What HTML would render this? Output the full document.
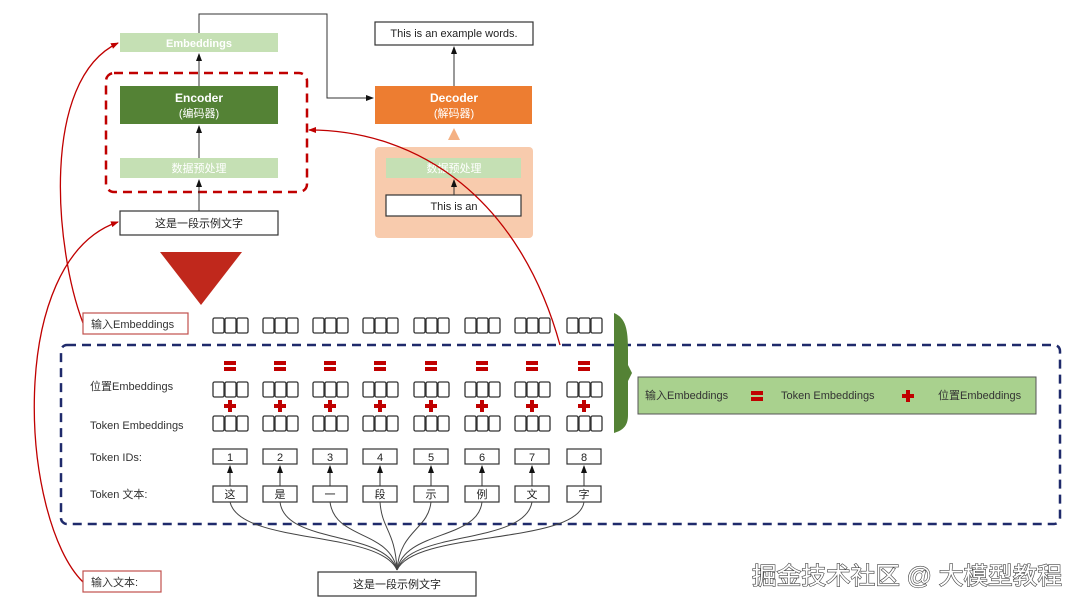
<!DOCTYPE html>
<html><head><meta charset="utf-8"><style>
body{margin:0;background:#fff;}
svg{display:block;font-family:"Liberation Sans","Noto Sans CJK SC",sans-serif;}
</style></head><body>
<svg width="1080" height="608" viewBox="0 0 1080 608" xmlns="http://www.w3.org/2000/svg">
<defs>
<marker id="ab" markerWidth="8" markerHeight="8" refX="7" refY="4" orient="auto" markerUnits="userSpaceOnUse"><path d="M0,1 L8,4 L0,7z" fill="#111"/></marker>
<marker id="ar" markerWidth="8" markerHeight="8" refX="7" refY="4" orient="auto" markerUnits="userSpaceOnUse"><path d="M0,1 L8,4 L0,7z" fill="#c00000"/></marker>
<g id="trip"><rect x="0" y="0" width="11" height="15" fill="#fff" stroke="#333" stroke-width="1.3" rx="1.5"/><rect x="12" y="0" width="11" height="15" fill="#fff" stroke="#333" stroke-width="1.3" rx="1.5"/><rect x="24" y="0" width="11" height="15" fill="#fff" stroke="#333" stroke-width="1.3" rx="1.5"/></g>
<g id="eq"><rect x="-6" y="-5" width="12" height="4" fill="#c00000"/><rect x="-6" y="1" width="12" height="4" fill="#c00000"/></g>
<g id="pl"><rect x="-6" y="-2" width="12" height="4" fill="#c00000"/><rect x="-2" y="-6" width="4" height="12" fill="#c00000"/></g>
</defs>

<rect x="120" y="33" width="158" height="19" fill="#c5e0b4"/>
<text x="199" y="47" font-size="11" fill="#fff" text-anchor="middle" font-weight="bold">Embeddings</text>
<rect x="106" y="73" width="201" height="119" rx="8" fill="none" stroke="#c00000" stroke-width="2.5" stroke-dasharray="9,6"/>
<rect x="120" y="86" width="158" height="38" fill="#548235"/>
<text x="199" y="102" font-size="12" fill="#fff" text-anchor="middle" font-weight="bold">Encoder</text>
<text x="199" y="117" font-size="11" fill="#fff" text-anchor="middle">(编码器)</text>
<rect x="120" y="158" width="158" height="20" fill="#c5e0b4"/>
<text x="199" y="172" font-size="11" fill="#fff" text-anchor="middle">数据预处理</text>
<rect x="120" y="211" width="158" height="24" fill="#fff" stroke="#333" stroke-width="1.2"/>
<text x="199" y="227" font-size="11" fill="#222" text-anchor="middle">这是一段示例文字</text>
<line x1="199" y1="211" x2="199" y2="180" stroke="#333" marker-end="url(#ab)"/>
<line x1="199" y1="158" x2="199" y2="126" stroke="#333" marker-end="url(#ab)"/>
<line x1="199" y1="86" x2="199" y2="54" stroke="#333" marker-end="url(#ab)"/>
<polyline points="199,33 199,14 327,14 327,98 373,98" fill="none" stroke="#333" marker-end="url(#ab)"/>

<rect x="375" y="22" width="158" height="23" fill="#fff" stroke="#333" stroke-width="1.2"/>
<text x="454" y="37" font-size="11" fill="#222" text-anchor="middle">This is an example words.</text>
<rect x="375" y="86" width="157" height="38" fill="#ed7d31"/>
<text x="454" y="102" font-size="12" fill="#fff" text-anchor="middle" font-weight="bold">Decoder</text>
<text x="454" y="117" font-size="11" fill="#fff" text-anchor="middle">(解码器)</text>
<line x1="454" y1="86" x2="454" y2="47" stroke="#333" marker-end="url(#ab)"/>
<path d="M448,140 L454,128 L460,140z" fill="#f4b183"/>
<rect x="375" y="147" width="158" height="91" rx="4" fill="#f8cbad"/>
<rect x="386" y="158" width="135" height="20" fill="#c5e0b4"/>
<text x="454" y="172" font-size="11" fill="#fff" text-anchor="middle">数据预处理</text>
<rect x="386" y="195" width="135" height="21" fill="#fff" stroke="#333" stroke-width="1.2"/>
<text x="454" y="210" font-size="11" fill="#222" text-anchor="middle">This is an</text>
<line x1="454" y1="195" x2="454" y2="180" stroke="#333" marker-end="url(#ab)"/>

<path d="M160,252 L242,252 L201,305z" fill="#c0281c"/>

<path d="M83,323 C55,250 40,80 118,43" fill="none" stroke="#c00000" stroke-width="1.3" marker-end="url(#ar)"/>
<path d="M83,582 C20,520 5,260 118,222" fill="none" stroke="#c00000" stroke-width="1.3" marker-end="url(#ar)"/>
<path d="M560,345 C520,200 420,130 309,130" fill="none" stroke="#c00000" stroke-width="1.3" marker-end="url(#ar)"/>

<rect x="83" y="313" width="105" height="21" fill="#fff" stroke="#c0504d" stroke-width="1.2"/>
<text x="91" y="328" font-size="11" fill="#333">输入Embeddings</text>
<rect x="83" y="571" width="78" height="21" fill="#fff" stroke="#c0504d" stroke-width="1.2"/>
<text x="91" y="586" font-size="11" fill="#333">输入文本:</text>

<rect x="61" y="345" width="999" height="179" rx="6" fill="none" stroke="#1f2a6b" stroke-width="2.5" stroke-dasharray="9,6"/>

<text x="90" y="390" font-size="11" fill="#333">位置Embeddings</text>
<text x="90" y="429" font-size="11" fill="#333">Token Embeddings</text>
<text x="90" y="461" font-size="11" fill="#333">Token IDs:</text>
<text x="90" y="498" font-size="11" fill="#333">Token 文本:</text>

<g>
<use href="#trip" x="213" y="318"/><use href="#trip" x="263" y="318"/><use href="#trip" x="313" y="318"/><use href="#trip" x="363" y="318"/><use href="#trip" x="414" y="318"/><use href="#trip" x="465" y="318"/><use href="#trip" x="515" y="318"/><use href="#trip" x="567" y="318"/>
<use href="#eq" x="230" y="366"/><use href="#eq" x="280" y="366"/><use href="#eq" x="330" y="366"/><use href="#eq" x="380" y="366"/><use href="#eq" x="431" y="366"/><use href="#eq" x="482" y="366"/><use href="#eq" x="532" y="366"/><use href="#eq" x="584" y="366"/>
<use href="#trip" x="213" y="382"/><use href="#trip" x="263" y="382"/><use href="#trip" x="313" y="382"/><use href="#trip" x="363" y="382"/><use href="#trip" x="414" y="382"/><use href="#trip" x="465" y="382"/><use href="#trip" x="515" y="382"/><use href="#trip" x="567" y="382"/>
<use href="#pl" x="230" y="406"/><use href="#pl" x="280" y="406"/><use href="#pl" x="330" y="406"/><use href="#pl" x="380" y="406"/><use href="#pl" x="431" y="406"/><use href="#pl" x="482" y="406"/><use href="#pl" x="532" y="406"/><use href="#pl" x="584" y="406"/>
<use href="#trip" x="213" y="416"/><use href="#trip" x="263" y="416"/><use href="#trip" x="313" y="416"/><use href="#trip" x="363" y="416"/><use href="#trip" x="414" y="416"/><use href="#trip" x="465" y="416"/><use href="#trip" x="515" y="416"/><use href="#trip" x="567" y="416"/>
</g>
<g stroke="#333" stroke-width="1.2" fill="#fff">
<rect x="213" y="449" width="34" height="15"/><rect x="263" y="449" width="34" height="15"/><rect x="313" y="449" width="34" height="15"/><rect x="363" y="449" width="34" height="15"/><rect x="414" y="449" width="34" height="15"/><rect x="465" y="449" width="34" height="15"/><rect x="515" y="449" width="34" height="15"/><rect x="567" y="449" width="34" height="15"/>
<rect x="213" y="486" width="34" height="16"/><rect x="263" y="486" width="34" height="16"/><rect x="313" y="486" width="34" height="16"/><rect x="363" y="486" width="34" height="16"/><rect x="414" y="486" width="34" height="16"/><rect x="465" y="486" width="34" height="16"/><rect x="515" y="486" width="34" height="16"/><rect x="567" y="486" width="34" height="16"/>
</g>
<g font-size="11" fill="#222" text-anchor="middle">
<text x="230" y="461">1</text><text x="280" y="461">2</text><text x="330" y="461">3</text><text x="380" y="461">4</text><text x="431" y="461">5</text><text x="482" y="461">6</text><text x="532" y="461">7</text><text x="584" y="461">8</text>
<text x="230" y="498">这</text><text x="280" y="498">是</text><text x="330" y="498">一</text><text x="380" y="498">段</text><text x="431" y="498">示</text><text x="482" y="498">例</text><text x="532" y="498">文</text><text x="584" y="498">字</text>
</g>
<g stroke="#333" stroke-width="1" marker-end="url(#ab)">
<line x1="230" y1="486" x2="230" y2="466"/><line x1="280" y1="486" x2="280" y2="466"/><line x1="330" y1="486" x2="330" y2="466"/><line x1="380" y1="486" x2="380" y2="466"/><line x1="431" y1="486" x2="431" y2="466"/><line x1="482" y1="486" x2="482" y2="466"/><line x1="532" y1="486" x2="532" y2="466"/><line x1="584" y1="486" x2="584" y2="466"/>
</g>
<g stroke="#444" stroke-width="1" fill="none">
<path d="M397,570 C380,530 240,545 230,502"/>
<path d="M397,570 C385,530 285,545 280,502"/>
<path d="M397,570 C390,530 335,540 330,502"/>
<path d="M397,570 C395,530 382,530 380,502"/>
<path d="M397,570 C400,530 428,530 431,502"/>
<path d="M397,570 C405,530 478,540 482,502"/>
<path d="M397,570 C410,530 525,545 532,502"/>
<path d="M397,570 C415,530 578,545 584,502"/>
</g>
<rect x="318" y="572" width="158" height="24" fill="#fff" stroke="#333" stroke-width="1.2"/>
<text x="397" y="588" font-size="11" fill="#222" text-anchor="middle">这是一段示例文字</text>

<path d="M614,313 C626,318 628,330 628,350 L628,365 L632,373 L628,381 L628,415 C628,425 624,430 614,433 Z" fill="#548235"/>

<rect x="638" y="377" width="398" height="37" fill="#a9d18e" stroke="#555" stroke-width="1"/>
<text x="645" y="399" font-size="11" fill="#333">输入Embeddings</text>
<use href="#eq" x="757" y="396"/>
<text x="781" y="399" font-size="11" fill="#333">Token Embeddings</text>
<use href="#pl" x="908" y="396"/>
<text x="938" y="399" font-size="11" fill="#333">位置Embeddings</text>

<text x="752" y="584" font-size="24" fill="#fff" stroke="#444" stroke-width="1.2" paint-order="stroke" textLength="310" lengthAdjust="spacingAndGlyphs">掘金技术社区 @ 大模型教程</text>
</svg>
</body></html>
